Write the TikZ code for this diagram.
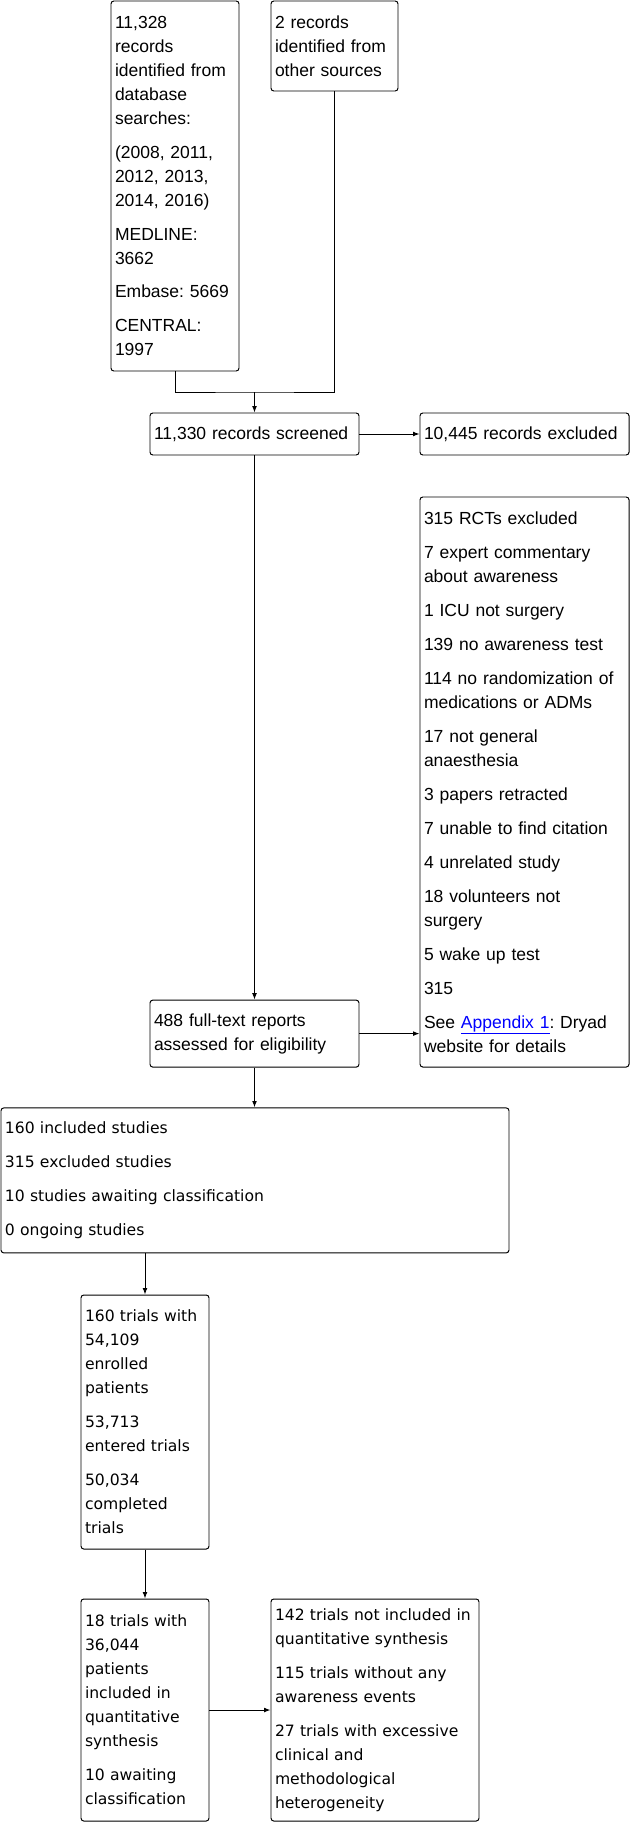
\documentclass[tikz,border=0pt]{standalone}
\usepackage{fontspec}
\setmainfont{Liberation Sans}
\newfontfamily\prwide{DejaVu Sans}
\usepackage{xcolor}
\usepackage{tikz}
\usetikzlibrary{arrows.meta,positioning}
\definecolor{prlink}{RGB}{0,0,255}
\tikzset{
  prnode/.style={draw=black, fill=white, rounded corners=2pt, align=left,
    inner xsep=0.1cm, inner ysep=0pt, line width=0.7pt,
    font=\fontsize{12.45pt}{17.07pt}\selectfont\frenchspacing},
  prwnode/.style={prnode, font=\prwide\fontsize{11.1pt}{17.07pt}\selectfont\frenchspacing},
  prarrow/.style={-{Latex[length=1.6mm,width=1.2mm]}, line width=0.7pt},
  prline/.style={line width=0.7pt}
}

\begin{document}
\begin{tikzpicture}
  \useasboundingbox (0,0) rectangle (15.825cm,-45.55cm);
  \node[prnode, text width=3.0cm, minimum height=9.25cm] (pA) at (4.375cm,-4.65cm)
    {11,328\\records\\identified from\\database\\searches:\\[7.1pt](2008, 2011,\\2012, 2013,\\2014, 2016)\\[7.1pt]MEDLINE:\\3662\\[7.1pt]Embase: 5669\\[7.1pt]CENTRAL:\\1997};
  \node[prnode, text width=2.975cm, minimum height=2.25cm] (pB) at (8.3625cm,-1.15cm)
    {2 records\\identified from\\other sources};
  \node[prnode, text width=5.025cm, minimum height=1.05cm] (pC) at (6.3625cm,-10.85cm)
    {11,330 records screened};
  \node[prnode, text width=5.025cm, minimum height=1.05cm] (pD) at (13.1125cm,-10.85cm)
    {10,445 records excluded};
  \node[prnode, text width=5.025cm, minimum height=14.25cm] (pE) at (13.1125cm,-19.55cm)
    {315 RCTs excluded\\[7.1pt]7 expert commentary\\about awareness\\[7.1pt]1 ICU not surgery\\[7.1pt]139 no awareness test\\[7.1pt]114 no randomization of\\medications or ADMs\\[7.1pt]17 not general\\anaesthesia\\[7.1pt]3 papers retracted\\[7.1pt]7 unable to find citation\\[7.1pt]4 unrelated study\\[7.1pt]18 volunteers not\\surgery\\[7.1pt]5 wake up test\\[7.1pt]315\\[7.1pt]See \textcolor{prlink}{\underline{Appendix 1}}: Dryad\\website for details};
  \node[prnode, text width=5.025cm, minimum height=1.675cm] (pF) at (6.3625cm,-25.84cm)
    {488 full-text reports\\assessed for eligibility};
  \node[prwnode, text width=12.5cm, minimum height=3.625cm] (pG) at (6.375cm,-29.51cm)
    {160 included studies\\[7.1pt]315 excluded studies\\[7.1pt]10 studies awaiting classification\\[7.1pt]0 ongoing studies};
  \node[prwnode, text width=3.0cm, minimum height=6.35cm] (pH) at (3.625cm,-35.55cm)
    {160 trials with\\54,109\\enrolled\\patients\\[7.1pt]53,713\\entered trials\\[7.1pt]50,034\\completed\\trials};
  \node[prwnode, text width=3.0cm, minimum height=5.55cm] (pI) at (3.625cm,-42.75cm)
    {18 trials with\\36,044\\patients\\included in\\quantitative\\synthesis\\[7.1pt]10 awaiting\\classification};
  \node[prwnode, text width=5.0cm, minimum height=5.55cm] (pJ) at (9.375cm,-42.75cm)
    {142 trials not included in\\quantitative synthesis\\[7.1pt]115 trials without any\\awareness events\\[7.1pt]27 trials with excessive\\clinical and\\methodological\\heterogeneity};
  % connectors
  \coordinate (pJoin) at (6.3625cm,-9.8cm);
  \draw[prline] (pA.south) |- (pJoin) -| (pB.south);
  \draw[prarrow] (pJoin) -- (pC.north);
  \draw[prarrow] (pC) -- (pD);
  \draw[prarrow] (pC) -- (pF);
  \draw[prarrow] (pF.east) -- (pE.west |- pF.east);
  \draw[prarrow] (pF.south) -- (pF.south |- pG.north);
  \draw[prarrow] (pG.south -| pH.north) -- (pH.north);
  \draw[prarrow] (pH) -- (pI);
  \draw[prarrow] (pI) -- (pJ);
\end{tikzpicture}
\end{document}
